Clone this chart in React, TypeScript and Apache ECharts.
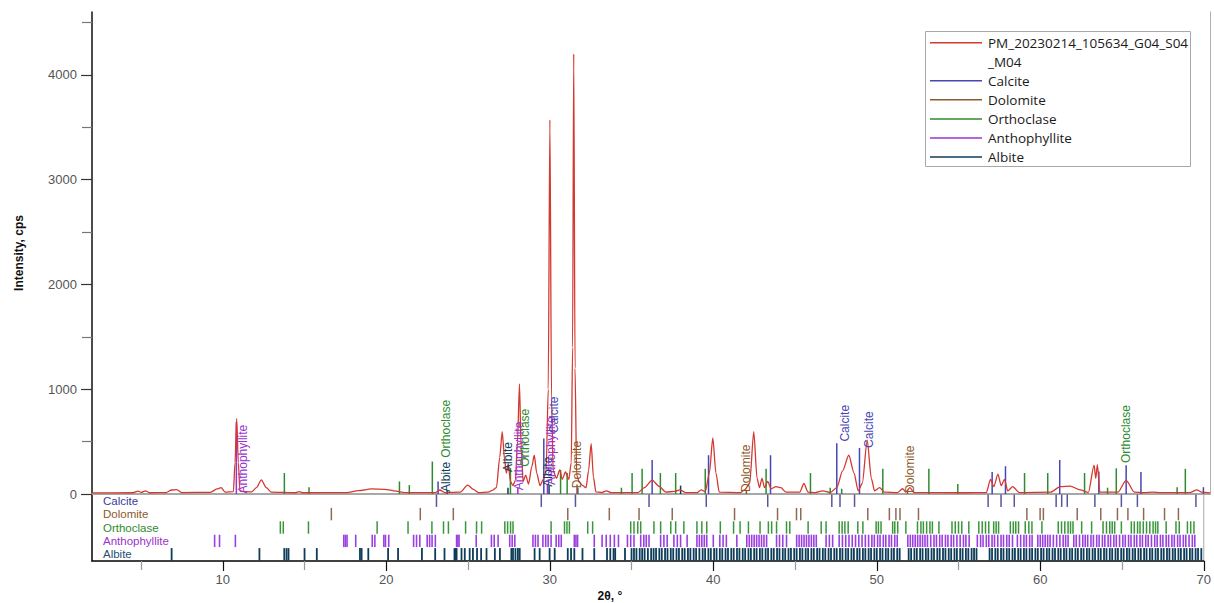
import { useEffect, useRef } from 'react';
import * as echarts from 'echarts';

// ---------- data ----------
const SAMPLE_NAME = 'PM_20230214_105634_G04_S04_M04';
const PHASES = ['Calcite', 'Dolomite', 'Orthoclase', 'Anthophyllite', 'Albite'];
const PHASE_COLORS = ['#4646b6', '#8b5a2b', '#2e8b2e', '#9a33d2', '#0e3c5a'];
const STRIP_COLORS = ['#56569f', '#8f6b55', '#3a963a', '#9b40e0', '#0d3d5a'];
const ROW_LABEL_COLORS = ['#3a3a9c', '#8b5a2b', '#2e8b2e', '#9932cc', '#1f4f6f'];
const SAMPLE_COLOR = '#d4382f';

const X_TICKS = [10, 20, 30, 40, 50, 60, 70];
const X_MINOR = [5, 15, 25, 35, 45, 55, 65];
const Y_TICKS = [0, 1000, 2000, 3000, 4000];
const Y_MINOR = [500, 1500, 2500, 3500, 4500];

const spectrum: [number, number][] = [
  [2.0, 10], [4.5, 12], [4.8, 28], [5.0, 15], [5.25, 30], [5.5, 12], [6.5, 14], [6.85, 38], [7.15, 42], [7.45, 14],
  [9.2, 16], [9.6, 48], [9.85, 60], [10.1, 18], [10.6, 22], [10.7, 300], [10.8, 720], [10.9, 300], [11.0, 25],
  [11.7, 20], [12.0, 60], [12.3, 135], [12.6, 60], [12.9, 18], [14.4, 12], [14.6, 22], [14.8, 12], [17.5, 14],
  [18.2, 32], [19.0, 48], [19.8, 45], [20.5, 28], [21.0, 14], [22.9, 14], [23.15, 38], [23.45, 14], [24.4, 18],
  [24.85, 85], [25.2, 45], [25.5, 14], [26.1, 18], [26.35, 35], [26.6, 60], [26.8, 350], [26.95, 595], [27.1, 320],
  [27.2, 200], [27.32, 290], [27.45, 120], [27.6, 80], [27.75, 130], [27.88, 500], [28.0, 1050], [28.1, 450],
  [28.22, 120], [28.38, 180], [28.55, 95], [28.75, 260], [28.9, 370], [29.05, 200], [29.25, 80], [29.45, 140],
  [29.62, 220], [29.75, 1000], [29.85, 3570], [29.95, 900], [30.05, 220], [30.25, 150], [30.45, 230], [30.6, 140],
  [30.8, 210], [31.0, 140], [31.15, 300], [31.23, 1400], [31.3, 4200], [31.38, 1200], [31.48, 180], [31.65, 110],
  [31.85, 80], [32.05, 60], [32.2, 220], [32.36, 480], [32.5, 160], [32.65, 20], [33.0, 14], [33.3, 30], [33.55, 14],
  [35.2, 14], [35.6, 60], [36.07, 133], [36.5, 72], [36.9, 18], [37.45, 25], [37.75, 40], [38.1, 14], [38.8, 14],
  [39.05, 40], [39.3, 22], [39.55, 200], [39.76, 535], [39.95, 200], [40.15, 18], [41.45, 14], [41.7, 42], [42.0, 100],
  [42.25, 595], [42.45, 150], [42.6, 60], [42.75, 150], [42.9, 60], [43.1, 120], [43.3, 50], [43.6, 70], [43.9, 60],
  [44.2, 18], [45.05, 18], [45.3, 100], [45.55, 18], [46.0, 14], [46.45, 30], [46.9, 14], [47.3, 60], [47.65, 220],
  [48.03, 370], [48.35, 200], [48.6, 30], [48.85, 100], [49.15, 515], [49.4, 150], [49.6, 30], [49.9, 60], [50.2, 18],
  [51.0, 14], [51.3, 50], [51.5, 18], [51.75, 60], [52.0, 14], [55.0, 12], [56.4, 14], [56.65, 140], [56.85, 70],
  [57.1, 190], [57.3, 80], [57.5, 140], [57.7, 30], [58.0, 70], [58.4, 14], [60.3, 18], [60.9, 70], [61.5, 75],
  [62.1, 40], [62.6, 14], [62.95, 275], [63.05, 150], [63.15, 280], [63.3, 18], [64.4, 18], [64.9, 130], [65.4, 18],
  [66.0, 14], [66.5, 18], [67.0, 14], [68.8, 14], [69.2, 40], [69.5, 18], [70.0, 10],
];

// reference sticks in the main plot: [2θ, height]
const calciteSticks: [number, number][] = [
  [23.05, 120], [29.48, 530], [31.55, 60], [36.07, 325], [39.5, 370], [43.27, 370], [47.3, 485], [48.68, 440],
  [56.75, 210], [57.56, 265], [60.86, 325], [63.24, 215], [64.9, 275], [65.8, 210], [69.6, 65],
];
const dolomiteSticks: [number, number][] = [[31.5, 90], [41.8, 40], [51.6, 40]];
const orthoclaseSticks: [number, number][] = [
  [13.7, 200], [15.2, 65], [20.7, 120], [21.3, 85], [22.7, 310], [27.45, 250], [30.5, 230], [30.9, 200], [34.2, 60],
  [34.85, 200], [35.46, 240], [36.57, 200], [37.5, 200], [39.3, 240], [43.0, 240], [45.7, 200], [46.9, 60], [47.6, 50],
  [50.1, 240], [52.9, 240], [54.66, 95], [58.72, 200], [60.13, 200], [62.37, 200], [63.77, 60], [64.3, 245],
  [68.0, 65], [68.5, 240],
];
const anthophylliteSticks: [number, number][] = [[10.78, 690], [27.9, 60], [29.7, 90]];
const albiteSticks: [number, number][] = [[23.6, 30], [27.3, 60], [29.8, 80], [37.8, 80]];

// phase strip positions (2θ)
const calciteLines = [23.07, 29.48, 31.57, 36.07, 39.57, 43.33, 47.25, 47.75, 48.64, 56.81, 57.6, 58.41, 60.97, 61.31,
  61.65, 63.34, 64.96, 65.94, 69.52];
const dolomiteLines = [16.64, 22.08, 24.1, 31.1, 33.64, 35.46, 37.49, 41.3, 43.93, 45.09, 45.35, 49.45, 50.77, 51.17,
  51.42, 52.55, 59.18, 59.99, 60.19, 62.26, 63.7, 64.72, 65.36, 66.32, 67.6, 68.45];
const orthoclaseLines = [13.52, 13.7, 15.24, 19.44, 21.33, 22.79, 23.5, 23.8, 24.85, 25.52, 25.83, 27.25, 27.42, 27.6,
  27.75, 30.08, 30.9, 31.05, 31.2, 32.32, 32.62, 34.95, 35.15, 35.38, 35.56, 36.37, 36.78, 37.4, 37.7, 38.2, 39.0,
  39.3, 39.6, 40.43, 41.24, 41.64, 42.15, 42.86, 43.37, 43.57, 43.87, 44.48, 44.68, 45.8, 46.6, 46.9, 47.7, 47.88,
  48.05, 48.25, 48.84, 49.15, 49.96, 50.1, 50.26, 50.97, 51.1, 51.28, 51.78, 52.49, 52.7, 52.85, 53.05, 53.25, 53.4,
  53.8, 54.6, 54.8, 55.0, 55.2, 55.63, 56.24, 56.45, 56.65, 56.85, 57.15, 57.3, 57.45, 58.17, 58.35, 58.5, 58.67,
  59.08, 59.3, 59.49, 60.1, 61.1, 61.3, 61.5, 61.7, 61.85, 62.0, 62.53, 63.14, 63.84, 64.05, 64.25, 64.4, 64.55, 64.96,
  65.57, 65.75, 65.95, 66.1, 66.3, 66.5, 66.7, 66.9, 67.05, 67.19, 67.7, 68.3, 68.5, 69.0, 69.2, 69.4];
const anthophylliteLines = [9.5, 9.8, 10.77, 17.4, 17.5, 17.6, 18.13, 19.14, 19.3, 19.85, 19.95, 20.15, 21.67, 21.85,
  22.05, 22.5, 22.65, 22.8, 23.0, 24.3, 24.38, 24.45, 25.5, 26.43, 26.6, 26.84, 27.55, 27.7, 27.86, 28.97, 29.12,
  29.28, 29.58, 29.75, 29.9, 30.08, 30.39, 30.55, 30.7, 31.5, 31.6, 31.7, 32.72, 33.2, 33.45, 33.7, 33.95, 34.2, 34.75,
  34.95, 35.15, 35.56, 35.75, 35.9, 36.07, 36.78, 36.98, 37.18, 37.59, 37.8, 38.0, 38.4, 39.0, 39.15, 39.3, 39.45,
  39.6, 40.0, 40.4, 40.6, 40.8, 41.44, 42.05, 42.2, 42.35, 42.5, 42.65, 42.8, 42.95, 43.1, 43.26, 43.87, 44.05, 44.25,
  44.48, 45.1, 45.25, 45.4, 45.55, 45.7, 45.85, 46.0, 46.15, 46.3, 46.9, 47.1, 47.3, 47.7, 47.9, 48.1, 48.3, 48.5,
  48.7, 48.9, 49.1, 49.3, 49.5, 49.7, 49.85, 50.05, 50.2, 50.4, 50.55, 50.75, 50.9, 51.1, 51.25, 51.9, 52.05, 52.2,
  52.35, 52.5, 52.65, 52.8, 52.95, 53.1, 53.3, 53.5, 53.65, 53.85, 54.0, 54.2, 54.35, 54.55, 54.7, 54.9, 55.1, 55.3,
  55.45, 55.65, 56.15, 56.35, 56.5, 56.7, 56.85, 57.05, 57.2, 57.4, 57.6, 57.75, 57.95, 58.1, 58.3, 58.6, 58.8, 59.0,
  59.15, 59.35, 59.5, 59.85, 60.0, 60.15, 60.3, 60.45, 60.6, 60.8, 61.0, 61.2, 61.4, 61.55, 61.7, 62.05, 62.2, 62.4,
  62.6, 62.75, 62.9, 63.1, 63.25, 63.45, 63.6, 63.8, 63.95, 64.15, 64.3, 64.5, 64.65, 64.85, 65.05, 65.2, 65.4, 65.55,
  65.75, 65.9, 66.1, 66.25, 66.45, 66.6, 66.8, 67.0, 67.15, 67.35, 67.5, 67.7, 67.85, 68.05, 68.2, 68.4, 68.55, 68.75,
  68.9, 69.1, 69.3, 69.45];
const albiteLines = [6.87, 12.24, 13.76, 13.9, 14.02, 15.0, 15.75, 18.39, 18.49, 18.9, 20.11, 20.72, 22.18, 22.99,
  23.56, 24.17, 24.24, 24.3, 24.6, 24.8, 25.1, 25.3, 25.55, 25.8, 26.13, 26.64, 26.95, 27.65, 27.75, 27.9, 28.05,
  28.16, 29.07, 29.38, 29.99, 30.3, 31.1, 31.3, 31.5, 32.0, 32.72, 33.5, 33.7, 33.9, 34.0, 34.6, 35.0, 35.15, 35.3,
  35.5, 35.65, 35.8, 36.0, 36.2, 36.35, 36.5, 36.7, 36.85, 37.05, 37.2, 37.4, 37.55, 37.75, 37.9, 38.1, 38.25, 38.45,
  38.6, 38.8, 38.95, 39.15, 39.35, 39.5, 39.7, 39.85, 40.05, 40.2, 40.4, 40.55, 40.75, 40.9, 41.1, 41.25, 41.45, 41.6,
  41.8, 41.95, 42.15, 42.3, 42.5, 42.65, 42.85, 43.0, 43.2, 43.35, 43.55, 43.7, 43.9, 44.05, 44.25, 44.4, 44.6, 44.75,
  44.95, 45.1, 45.3, 45.45, 45.65, 45.8, 46.0, 46.15, 46.35, 46.5, 46.7, 46.85, 47.05, 47.2, 47.4, 47.55, 47.75, 47.9,
  48.1, 48.25, 48.45, 48.6, 48.8, 48.95, 49.15, 49.3, 49.5, 49.65, 49.85, 50.0, 50.2, 50.35, 50.55, 50.7, 50.9, 51.05,
  51.25, 51.4, 51.95, 52.1, 52.3, 52.45, 52.65, 52.8, 53.0, 53.15, 53.35, 53.5, 53.7, 53.85, 54.05, 54.2, 54.4, 54.55,
  54.75, 54.9, 55.1, 55.25, 55.45, 55.6, 55.8, 55.95, 56.1, 56.9, 57.05, 57.25, 57.4, 57.6, 57.75, 57.95, 58.1, 58.3,
  58.45, 58.65, 58.8, 59.0, 59.15, 59.35, 59.5, 59.7, 59.85, 60.05, 60.2, 60.4, 60.55, 60.75, 60.9, 61.1, 61.25,
  61.45, 61.6, 61.8, 61.95, 62.15, 62.3, 62.5, 62.65, 62.85, 63.0, 63.2, 63.35, 63.55, 63.7, 63.9, 64.05, 64.25, 64.4,
  64.6, 64.75, 64.95, 65.1, 65.3, 65.45, 65.65, 65.8, 66.0, 66.15, 66.35, 66.5, 66.7, 66.85, 67.05, 67.2, 67.4, 67.55,
  67.75, 67.9, 68.1, 68.25, 68.45, 68.6, 68.8, 68.95, 69.15, 69.3, 69.5, 69.65, 69.85];

// vertical phase labels in the main plot: 2θ, intensity where the text starts, phase index
const labelX = [11.2, 23.55, 23.55, 27.3, 28.0, 28.36, 29.72, 29.94, 30.08, 31.5, 41.8, 47.8, 49.25, 51.74, 64.9];
const labelY = [5, 20, 345, 210, 35, 260, 70, 85, 580, 55, 20, 500, 440, 10, 295];
const labelPhase = [3, 4, 2, 4, 3, 2, 4, 3, 0, 1, 1, 0, 0, 1, 2];

// ---------- option ----------
const AXIS_FONT = '"Liberation Sans", Arial, sans-serif';
const UI_FONT = '"Open Sans", "Noto Sans", sans-serif';

function stickSeries(name: string, data: [number, number][], color: string) {
  return {
    type: 'custom', name, xAxisIndex: 0, yAxisIndex: 0, data, z: 2, silent: true,
    renderItem: (_p: any, api: any) => {
      const x = api.value(0);
      const h = api.value(1);
      const a = api.coord([x, 0]);
      const b = api.coord([x, h]);
      return { type: 'line', shape: { x1: a[0], y1: a[1], x2: b[0], y2: b[1] }, style: { stroke: color, lineWidth: 1.5 } };
    },
  };
}

function stripSeries(name: string, lines: number[], row: number, color: string, width: number) {
  return {
    type: 'custom', name, xAxisIndex: 1, yAxisIndex: 3, silent: true, z: 2,
    data: lines.map((x) => [x, row]),
    renderItem: (_p: any, api: any) => {
      const p = api.coord([api.value(0), api.value(1)]);
      const h = api.size([0, 1])[1];
      return {
        type: 'line',
        shape: { x1: p[0], y1: p[1] - h / 2 + 0.5, x2: p[0], y2: p[1] + h / 2 - 0.5 },
        style: { stroke: color, lineWidth: width },
      };
    },
  };
}

function buildOption() {
  const legendRows = [
    { text: 'PM_20230214_105634_G04_S04', color: SAMPLE_COLOR },
    { text: '_M04', color: '' },
    ...PHASES.map((p, i) => ({ text: p, color: PHASE_COLORS[i] })),
  ];
  const legendGraphic: any[] = [
    { type: 'rect', shape: { x: 925.5, y: 31.5, width: 265, height: 135 }, style: { fill: '#fff', stroke: '#a8a8a8', lineWidth: 1 }, z: 10 },
  ];
  legendRows.forEach((r, i) => {
    const y = 42.7 + i * 19.05;
    if (r.color) {
      legendGraphic.push({ type: 'line', shape: { x1: 930, y1: y, x2: 982, y2: y }, style: { stroke: r.color, lineWidth: 1.5 }, z: 11 });
    }
    legendGraphic.push({
      type: 'text', x: 988, y, z: 11,
      style: { text: r.text, fill: '#1a1a1a', font: `13.5px ${UI_FONT}`, verticalAlign: 'middle', align: 'left' },
    });
  });

  const stickSets = [calciteSticks, dolomiteSticks, orthoclaseSticks, anthophylliteSticks, albiteSticks];
  const lineSets = [calciteLines, dolomiteLines, orthoclaseLines, anthophylliteLines, albiteLines];
  const stripWidths = [1.5, 1.5, 1.5, 1.6, 1.8];

  return {
    animation: false,
    backgroundColor: '#fff',
    grid: [
      { left: 92, right: 4, top: 12, height: 482 },
      { left: 92, right: 4, top: 494, height: 67, show: true, borderColor: '#a8a8a8', borderWidth: 1, backgroundColor: 'transparent' },
    ],
    xAxis: [
      {
        gridIndex: 0, type: 'value', min: 2, max: 70, position: 'bottom',
        axisLine: { show: true, onZero: false, lineStyle: { color: '#a8a8a8', width: 2 } },
        axisTick: { show: false }, axisLabel: { show: false }, splitLine: { show: false },
      },
      {
        gridIndex: 1, type: 'value', min: 2, max: 70, position: 'bottom',
        axisLine: { show: true, onZero: false, lineStyle: { color: '#111', width: 1.5 } },
        axisTick: { show: true, customValues: X_TICKS, length: 10, lineStyle: { color: '#111', width: 1.2 } },
        axisLabel: {
          show: true, customValues: X_TICKS, margin: 12, color: '#555', fontSize: 13, fontFamily: AXIS_FONT,
          formatter: (v: number) => String(v),
        },
        splitLine: { show: false },
        name: '2θ, °', nameLocation: 'middle', nameGap: 29,
        nameTextStyle: { fontWeight: 'bold', fontSize: 12, color: '#111', fontFamily: AXIS_FONT, padding: [0, 76, 0, 0] },
      },
      {
        gridIndex: 1, type: 'value', min: 2, max: 70, position: 'bottom',
        axisLine: { show: false },
        axisTick: { show: true, customValues: X_MINOR, length: 9, lineStyle: { color: '#999', width: 1.2 } },
        axisLabel: { show: false }, splitLine: { show: false },
      },
    ],
    yAxis: [
      {
        gridIndex: 0, type: 'value', min: 0, max: 4600, position: 'left',
        axisLine: { show: true, lineStyle: { color: '#111', width: 1.5 } },
        axisTick: { show: true, customValues: Y_TICKS, length: 11, lineStyle: { color: '#333', width: 1.2 } },
        axisLabel: {
          show: true, customValues: Y_TICKS, margin: 15, color: '#555', fontSize: 13, fontFamily: AXIS_FONT,
          formatter: (v: number) => String(v),
        },
        splitLine: { show: false },
        name: 'Intensity, cps', nameLocation: 'middle', nameGap: 67,
        nameTextStyle: { fontWeight: 'bold', fontSize: 12, color: '#111', fontFamily: AXIS_FONT },
      },
      {
        gridIndex: 0, type: 'value', min: 0, max: 4600, position: 'left',
        axisLine: { show: false },
        axisTick: { show: true, customValues: Y_MINOR, length: 10, lineStyle: { color: '#777', width: 1.2 } },
        axisLabel: { show: false }, splitLine: { show: false },
      },
      {
        gridIndex: 0, type: 'value', min: 0, max: 4600, position: 'right',
        axisLine: { show: true, lineStyle: { color: '#b0b0b0', width: 1 } },
        axisTick: { show: false }, axisLabel: { show: false }, splitLine: { show: false },
      },
      {
        gridIndex: 1, type: 'category', data: PHASES, inverse: true, position: 'left',
        axisLine: { show: true, lineStyle: { color: '#111', width: 1.5 } },
        axisTick: { show: false }, splitLine: { show: false },
        axisLabel: {
          show: true, inside: true, interval: 0, margin: 11, fontSize: 11.5, fontFamily: AXIS_FONT,
          formatter: (v: string) => `{p${PHASES.indexOf(v)}|${v}}`,
          rich: Object.fromEntries(PHASES.map((_, i) => [`p${i}`, {
            color: ROW_LABEL_COLORS[i], fontSize: 11.5, fontFamily: AXIS_FONT,
          }])),
        },
      },
    ],
    series: [
      ...PHASES.map((p, i) => stickSeries(p, stickSets[i], PHASE_COLORS[i])),
      {
        type: 'line', name: SAMPLE_NAME, xAxisIndex: 0, yAxisIndex: 0, data: spectrum,
        showSymbol: false, symbol: 'none', smooth: 0.25, smoothMonotone: 'x', z: 3,
        lineStyle: { color: SAMPLE_COLOR, width: 1.3 },
      },
      ...PHASES.map((p, i) => stripSeries(p, lineSets[i], i, STRIP_COLORS[i], stripWidths[i])),
      {
        type: 'custom', name: 'labels', xAxisIndex: 0, yAxisIndex: 0, z: 4, silent: true,
        data: labelX.map((x, i) => [x, labelY[i]]),
        renderItem: (params: any, api: any) => {
          const p = api.coord([api.value(0), api.value(1)]);
          const ph = labelPhase[params.dataIndex];
          return {
            type: 'text', x: p[0], y: p[1], rotation: Math.PI / 2,
            style: { text: PHASES[ph], fill: PHASE_COLORS[ph], font: `12px ${AXIS_FONT}`, align: 'left', verticalAlign: 'middle' },
          };
        },
      },
    ],
    graphic: legendGraphic,
  };
}

export default function App() {
  const ref = useRef<HTMLDivElement>(null);
  useEffect(() => {
    const chart = echarts.init(ref.current as HTMLDivElement, null, { renderer: 'svg' });
    chart.setOption(buildOption() as any);
    return () => chart.dispose();
  }, []);
  return (
    <div
      ref={ref}
      style={{ position: 'fixed', left: 0, top: 0, width: 1214, height: 603, background: '#fff' }}
    />
  );
}
